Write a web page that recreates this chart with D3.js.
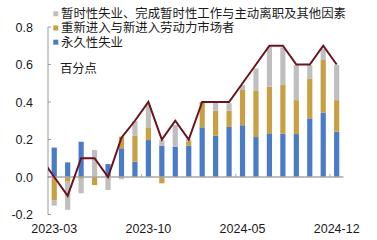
<!DOCTYPE html>
<html><head><meta charset="utf-8">
<script src="https://cdn.jsdelivr.net/npm/d3@7"></script>
<style>
body{margin:0;background:#fff;}
svg{display:block;}
</style></head>
<body>
<svg id="c" width="377" height="240"></svg>
<script>
const months = ["2023-03","2023-04","2023-05","2023-06","2023-07","2023-08","2023-09","2023-10","2023-11","2023-12",
  "2024-01","2024-02","2024-03","2024-04","2024-05","2024-06","2024-07","2024-08","2024-09","2024-10","2024-11","2024-12"];
const permanent = [0.157,0.078,0.188,0.0,0.069,0.153,0.082,0.197,0.167,0.162,0.167,0.265,0.22,0.267,0.276,0.213,0.233,0.231,0.229,0.313,0.343,0.242];
const reentrants = [-0.123,-0.025,-0.01,-0.043,0.0,0.062,0.137,0.068,-0.034,0.0,0.024,0.135,0.134,0.087,0.188,0.246,0.249,0.26,0.181,0.213,0.281,0.168];
const temporary = [-0.03,-0.15,-0.077,0.144,-0.069,-0.012,0.08,0.12,0.03,0.115,0.01,0.0,0.045,0.04,0.027,0.12,0.213,0.2,0.187,0.071,0.06,0.187];
// total line (includes the preceding month, clipped at the axis)
const lineMonths = ["2023-02", ...months];
const total = [0.10,0.0,-0.10,0.10,0.10,0.0,0.21,0.30,0.40,0.20,0.30,0.20,0.40,0.40,0.40,0.50,0.60,0.70,0.70,0.60,0.60,0.70,0.60];
const seriesNames = ["永久性失业","重新进入与新进入劳动力市场者","暂时性失业、完成暂时性工作与主动离职及其他因素"];
const seriesColors = ["#4a7bc6","#c7a044","#bfbfbf"];
const yTicks = [-0.2,0.0,0.2,0.4,0.6,0.8];
const xTickLabels = ["2023-03","2023-10","2024-05","2024-12"];
const unitLabel = "百分点";

const svg = d3.select("#c");
const step = 13.45;
const x = d3.scaleBand().domain(lineMonths).range([47.5 - step, 47.5 + step * months.length]).padding(0);
const y = d3.scaleLinear().domain([-0.2, 0.8]).range([214.5, 27]);
const barW = 5.2;
const numFont = "'Liberation Sans', Arial, sans-serif";
const cjkFont = "'Noto Sans CJK SC', 'Noto Sans', sans-serif";

const rows = months.map((m, i) => ({m, a: permanent[i], b: reentrants[i], c: temporary[i]}));
const stack = d3.stack().keys(["a","b","c"]).offset(d3.stackOffsetDiverging);
const layers = stack(rows);

// bars
svg.append("g").selectAll("g").data(layers).join("g")
  .attr("fill", (d, i) => seriesColors[i])
  .selectAll("rect").data(d => d).join("rect")
  .attr("x", d => x(d.data.m) + (x.bandwidth() - barW) / 2)
  .attr("width", barW)
  .attr("y", d => y(Math.max(d[0], d[1])))
  .attr("height", d => Math.abs(y(d[0]) - y(d[1])));

// zero line
const x0 = 47.5, x1 = 47.5 + step * months.length;
svg.append("line").attr("x1", x0).attr("x2", x1).attr("y1", y(0)).attr("y2", y(0))
  .attr("stroke", "#a8a8a8").attr("stroke-width", 1.3);

// x ticks at band boundaries every 7 months
[7, 14, 21].forEach(k => {
  const xx = x(months[k]);
  svg.append("line").attr("x1", xx).attr("x2", xx).attr("y1", y(0)).attr("y2", y(0) - 3)
    .attr("stroke", "#a8a8a8").attr("stroke-width", 1);
});

// y axis
svg.append("line").attr("x1", 48).attr("x2", 48).attr("y1", y(0.8)).attr("y2", y(-0.2))
  .attr("stroke", "#9a9a9a").attr("stroke-width", 1);
yTicks.forEach(t => {
  svg.append("line").attr("x1", 48).attr("x2", 51).attr("y1", y(t)).attr("y2", y(t))
    .attr("stroke", "#9a9a9a").attr("stroke-width", 1);
  svg.append("text").attr("x", 33).attr("y", y(t)).attr("dy", "0.36em")
    .attr("text-anchor", "end").attr("font-family", numFont).attr("font-size", 12.5)
    .attr("fill", "#1a1a1a").text(t.toFixed(1));
});

// x labels
xTickLabels.forEach(l => {
  svg.append("text").attr("x", x(l) + x.bandwidth() / 2).attr("y", 233)
    .attr("text-anchor", "middle").attr("font-family", numFont).attr("font-size", 12.5)
    .attr("fill", "#1a1a1a").text(l);
});

// total line (clipped at axis)
svg.append("clipPath").attr("id", "clip").append("rect")
  .attr("x", 48).attr("y", 0).attr("width", x1 - 48).attr("height", 240);
const line = d3.line().x((d, i) => x(lineMonths[i]) + x.bandwidth() / 2).y(d => y(d));
svg.append("path").datum(total).attr("d", line).attr("clip-path", "url(#clip)")
  .attr("fill", "none").attr("stroke", "#6b1420").attr("stroke-width", 2).attr("stroke-linejoin", "miter");

// legend (top-down: gray, gold, blue)
const legendOrder = [2, 1, 0];
legendOrder.forEach((si, r) => {
  const cy = 13.8 + r * 14.2;
  svg.append("rect").attr("x", 53.3).attr("y", cy - 2.5).attr("width", 5).attr("height", 5).attr("fill", seriesColors[si]);
  svg.append("text").attr("x", 61).attr("y", cy).attr("dy", "0.36em")
    .attr("font-family", cjkFont).attr("font-size", 12.4).attr("fill", "#1a1a1a").text(seriesNames[si]);
});

svg.append("text").attr("x", 60).attr("y", 69).attr("dy", "0.36em")
  .attr("font-family", cjkFont).attr("font-size", 12.3).attr("fill", "#1a1a1a").text(unitLabel);
</script>
</body></html>
